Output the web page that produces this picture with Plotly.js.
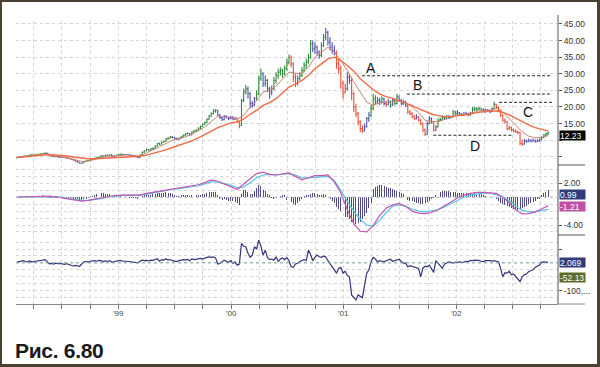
<!DOCTYPE html>
<html>
<head>
<meta charset="utf-8">
<script src="https://cdn.plot.ly/plotly-3.0.1.min.js"></script>
<style>
  html,body{margin:0;padding:0;background:#fff;}
  #wrap{position:relative;width:600px;height:367px;overflow:hidden;background:#fff;}
  #chart{position:absolute;left:0;top:0;width:600px;height:367px;}
  #frame{position:absolute;left:0;top:0;width:600px;height:367px;box-sizing:border-box;
    border-top:2px solid #4a4132;border-left:2px solid #4a4132;border-right:3px solid #4a4132;border-bottom:3px solid #4a4132;pointer-events:none;}
  #caption{position:absolute;left:15px;top:340px;font-family:"Liberation Sans",Arial,sans-serif;font-weight:bold;font-size:21px;letter-spacing:-0.3px;color:#1a1a1a;line-height:21px;}
</style>
</head>
<body>
<div id="wrap">
  <div id="chart"></div>
  <div id="frame"></div>
  <div id="caption">Рис. 6.80</div>
</div>
<script>
// ---- weekly price bars (first bar 1998-02-06, one per week) ----
const firstWeek = '1998-02-06';
const open = [
4.7,4.8,4.9,5.0,5.2,5.3,5.4,5.6,5.5,5.6,
5.7,5.8,5.9,6.0,6.1,5.8,5.3,5.2,5.0,5.1,
4.9,4.8,4.9,4.7,4.6,4.4,4.2,4.0,3.7,3.4,
3.0,3.2,3.6,3.8,3.9,4.2,4.4,4.6,4.8,5.0,
5.3,5.2,5.5,5.4,5.6,4.9,5.3,5.5,5.7,5.8,
5.6,5.7,5.6,5.5,5.4,5.3,5.0,4.8,5.6,6.4,
6.8,7.2,7.0,7.4,7.5,8.2,9.0,8.8,9.4,9.6,
10.4,10.6,11.0,10.8,10.5,10.3,10.6,11.0,11.5,11.9,
12.0,11.6,12.5,12.8,13.0,13.6,14.1,14.8,15.3,16.3,
17.3,18.0,18.8,19.0,17.6,16.8,16.2,17.2,16.8,16.5,
17.0,16.4,16.6,15.5,14.5,22.0,24.5,25.5,24.0,21.0,
20.5,22.5,24.0,28.5,30.0,27.0,28.0,25.5,24.5,25.5,
28.0,29.5,30.5,31.0,30.0,31.5,33.5,35.0,33.0,29.0,
27.0,28.5,29.5,31.0,32.5,33.5,35.0,39.0,37.5,38.0,
36.5,35.5,38.5,41.0,42.5,39.5,38.0,37.0,36.5,33.0,
31.5,27.0,24.5,25.5,29.0,28.0,24.0,20.0,18.0,15.5,
13.5,12.8,14.0,16.5,17.5,19.5,22.5,21.5,22.0,21.5,
22.5,21.0,20.8,21.5,20.5,22.0,21.0,23.0,22.0,21.0,
21.5,20.5,18.5,18.0,17.0,16.5,17.0,16.0,15.0,13.0,
11.8,15.0,16.5,15.5,13.0,14.0,16.0,16.2,16.8,16.5,
17.2,16.8,17.0,18.5,18.0,18.2,17.8,17.5,17.8,18.0,
17.6,18.2,19.2,19.5,19.3,19.6,19.0,19.2,18.9,19.0,
18.6,19.5,20.8,19.8,19.0,17.5,16.0,15.5,13.5,13.8,
13.2,12.8,12.5,12.3,9.0,8.8,9.8,9.6,10.0,9.7,
10.0,9.6,9.8,10.1,10.8,11.5,11.9];
const high = [
4.9,5.0,5.1,5.3,5.4,5.5,5.7,5.7,5.7,5.8,
5.9,6.0,6.1,6.3,6.2,5.9,5.4,5.3,5.2,5.2,
5.0,5.0,5.0,4.8,4.7,4.5,4.3,4.1,3.8,3.5,
3.3,3.7,3.9,4.0,4.3,4.5,4.7,4.9,5.1,5.4,
5.4,5.6,5.6,5.8,5.7,5.4,5.6,5.8,5.9,5.9,
5.8,5.8,5.7,5.6,5.5,5.4,5.1,5.7,6.5,6.9,
7.4,7.3,7.6,7.8,8.4,9.2,9.3,9.6,9.9,10.6,
10.9,11.3,11.2,11.0,10.7,10.8,11.2,11.7,12.1,12.3,
12.2,12.7,13.0,13.3,13.9,14.4,15.0,15.6,16.6,17.6,
18.4,19.3,19.4,19.1,17.9,17.0,17.6,17.5,17.1,17.4,
17.2,17.0,16.8,15.8,22.5,25.6,26.6,26.2,24.5,21.8,
23.0,25.0,29.5,31.6,30.5,29.5,28.4,26.0,26.5,29.0,
30.5,31.5,32.0,31.5,32.5,34.5,35.8,35.5,33.5,30.0,
29.5,30.5,32.0,33.5,34.5,36.0,40.2,40.0,39.5,38.5,
37.0,39.5,42.0,43.8,43.0,41.0,39.5,38.5,37.0,34.5,
32.5,28.0,27.0,30.5,30.0,29.0,24.5,21.0,18.5,16.0,
14.5,15.0,17.0,18.5,20.5,24.0,23.5,23.0,22.8,23.2,
22.8,21.8,22.5,22.0,22.8,22.5,24.0,23.5,22.5,22.2,
21.8,20.8,19.2,18.4,17.6,17.8,17.3,16.4,15.3,13.5,
15.6,17.2,16.8,15.8,14.5,16.6,16.8,17.5,17.2,17.6,
17.5,17.4,19.1,18.9,19.0,18.5,18.2,18.5,18.6,18.3,
18.6,20.0,20.1,19.9,20.0,19.8,19.6,19.5,19.4,19.2,
19.8,21.6,21.0,20.2,19.3,17.8,16.5,15.8,14.4,14.1,
13.5,13.2,12.8,12.5,10.1,10.4,10.2,10.5,10.3,10.4,
10.2,10.3,10.5,11.2,11.9,12.3,12.6];
const low = [
4.6,4.7,4.8,4.9,5.1,5.2,5.3,5.4,5.4,5.5,
5.6,5.7,5.8,5.9,5.7,5.2,5.0,4.9,4.9,4.8,
4.7,4.7,4.6,4.5,4.3,4.1,3.9,3.6,3.3,2.9,
2.9,3.1,3.5,3.7,3.8,4.1,4.3,4.5,4.7,4.9,
5.0,5.1,5.3,5.3,4.7,4.8,5.2,5.4,5.6,5.5,
5.5,5.5,5.4,5.3,5.2,4.9,4.6,4.7,5.5,6.2,
6.6,6.8,6.9,7.2,7.4,8.1,8.5,8.7,9.2,9.5,
10.2,10.5,10.6,10.2,10.0,10.1,10.5,10.9,11.3,11.7,
11.4,11.5,12.3,12.6,12.9,13.4,14.0,14.6,15.1,16.1,
17.0,17.8,18.3,17.3,16.4,15.8,16.0,16.5,16.0,16.3,
16.0,16.1,15.2,13.6,14.3,21.5,23.8,22.5,19.6,19.8,
20.2,22.0,23.5,27.8,26.0,26.2,24.5,22.5,23.5,25.0,
27.0,28.5,29.5,28.8,29.5,31.0,32.8,32.0,27.5,26.0,
26.5,28.0,29.0,30.5,31.5,33.0,34.5,36.5,36.0,35.5,
34.5,35.0,38.0,40.0,38.5,37.0,36.0,35.5,31.5,30.0,
25.5,22.5,24.0,25.0,27.0,22.0,18.5,17.0,14.5,12.5,
12.2,12.6,13.8,15.5,17.0,19.0,20.8,20.8,20.5,21.0,
20.5,20.0,20.5,19.8,20.2,20.5,20.8,21.5,20.5,20.6,
20.0,18.0,17.5,16.6,16.0,16.2,15.6,14.5,12.5,11.3,
11.6,14.8,15.0,12.6,12.8,13.8,15.6,16.0,16.1,16.3,
16.4,16.5,16.9,17.6,17.6,17.4,17.2,17.3,17.5,17.2,
17.4,18.0,18.8,18.8,19.0,18.6,18.5,18.3,18.5,18.1,
18.4,19.3,19.4,18.6,17.0,15.5,15.0,13.0,13.0,12.6,
12.4,12.2,11.8,8.5,8.3,8.6,9.2,9.4,9.3,9.5,
9.2,9.4,9.5,9.9,10.6,11.1,11.6];
const close = [
4.8,4.9,5.0,5.2,5.3,5.4,5.6,5.5,5.6,5.7,
5.8,5.9,6.0,6.1,5.8,5.3,5.2,5.0,5.1,4.9,
4.8,4.9,4.7,4.6,4.4,4.2,4.0,3.7,3.4,3.0,
3.2,3.6,3.8,3.9,4.2,4.4,4.6,4.8,5.0,5.3,
5.2,5.5,5.4,5.6,4.9,5.3,5.5,5.7,5.8,5.6,
5.7,5.6,5.5,5.4,5.3,5.0,4.8,5.6,6.4,6.8,
7.2,7.0,7.4,7.5,8.2,9.0,8.8,9.4,9.6,10.4,
10.6,11.0,10.8,10.5,10.3,10.6,11.0,11.5,11.9,12.0,
11.6,12.5,12.8,13.0,13.6,14.1,14.8,15.3,16.3,17.3,
18.0,18.8,19.0,17.6,16.8,16.2,17.2,16.8,16.5,17.0,
16.4,16.6,15.5,14.5,22.0,24.5,25.5,24.0,21.0,20.5,
22.5,24.0,28.5,30.0,27.0,28.0,25.5,24.5,25.5,28.0,
29.5,30.5,31.0,30.0,31.5,33.5,35.0,33.0,29.0,27.0,
28.5,29.5,31.0,32.5,33.5,35.0,39.0,37.5,38.0,36.5,
35.5,38.5,41.0,42.5,39.5,38.0,37.0,36.5,33.0,31.5,
27.0,24.5,25.5,29.0,28.0,24.0,20.0,18.0,15.5,13.5,
12.8,14.0,16.5,17.5,19.5,22.5,21.5,22.0,21.5,22.5,
21.0,20.8,21.5,20.5,22.0,21.0,23.0,22.0,21.0,21.5,
20.5,18.5,18.0,17.0,16.5,17.0,16.0,15.0,13.0,11.8,
15.0,16.5,15.5,13.0,14.0,16.0,16.2,16.8,16.5,17.2,
16.8,17.0,18.5,18.0,18.2,17.8,17.5,17.8,18.0,17.6,
18.2,19.2,19.5,19.3,19.6,19.0,19.2,18.9,19.0,18.6,
19.5,20.8,19.8,19.0,17.5,16.0,15.5,13.5,13.8,13.2,
12.8,12.5,12.3,9.0,8.8,9.8,9.6,10.0,9.7,10.0,
9.6,9.8,10.1,10.8,11.5,11.9,12.23];
// impulse colour of each weekly bar: g = green, r = red, b = blue
const barColor =
 'gggggggbgg'+'ggggbbbrbb'+'bbrbbrrbbr'+'bggggggggg'+'bgbgbbgggb'+
 'bbbbbbbggg'+'gbgggggggg'+'ggbbbbgggg'+'bggggggggg'+'gggbbbbbbb'+
 'bbrrgggbbb'+'bgggbbbbbg'+'gggggggrrr'+'bggggggbbb'+'bggbbbbbrr'+
 'rrrbbrrrrr'+'rbbbggggbg'+'brbgbggbbg'+'brrrrbrrrr'+'bbbrbgggbg'+
 'bgggbbbbbb'+'bgggggbbbb'+'bgrrrrrrrr'+'rrrrrbbbbb'+'bbbgggg';

// ---- moving averages, MACD lines: one value every 3 weeks ----
const emaSlow = [4.8,5.0,5.2,5.4,5.6,5.65,5.55,5.4,5.15,4.85,
4.55,4.4,4.4,4.5,4.7,4.85,5.0,5.1,5.15,5.15,
5.5,6.0,6.5,7.1,7.8,8.4,9.0,9.8,10.7,11.6,
12.7,13.8,14.6,15.2,15.5,16.4,17.8,19.0,20.5,21.3,
22.5,24.2,26.0,27.0,28.0,29.5,31.5,33.0,34.5,35.0,
34.0,32.5,30.8,28.5,26.8,25.2,23.9,23.1,22.6,21.9,
21.2,20.4,19.5,18.6,17.9,17.4,17.1,17.1,17.3,17.6,
17.9,18.3,18.6,18.8,18.8,18.4,17.6,16.6,15.5,14.6,
13.8,13.2,12.8];
const emaFast = [4.8,5.1,5.4,5.6,5.85,5.6,5.3,5.0,4.6,4.1,
3.6,3.7,4.2,4.8,5.2,5.2,5.5,5.6,5.4,5.2,
6.2,7.0,8.0,9.0,10.0,10.3,11.0,11.8,12.8,14.0,
15.6,17.2,17.0,16.8,16.3,17.5,20.0,21.8,24.5,25.0,
26.3,28.3,30.5,30.2,30.0,32.0,35.0,36.5,38.0,36.5,
34.0,31.0,27.5,24.5,21.5,20.5,21.3,21.5,21.5,22.0,
21.3,20.0,18.3,16.0,15.6,15.6,16.3,16.8,17.5,17.7,
18.0,18.7,19.0,19.0,19.6,18.5,16.5,14.8,12.5,11.2,
10.7,10.8,11.4];
const macd = [0.0,0.05,0.1,0.15,0.2,0.15,0.05,-0.1,-0.25,-0.45,
-0.55,-0.45,-0.25,-0.05,0.15,0.25,0.3,0.3,0.25,0.3,
0.55,0.7,0.9,1.1,1.25,1.3,1.45,1.6,1.8,2.1,
2.5,2.3,1.9,1.5,1.1,1.9,2.7,3.4,3.6,3.3,
3.2,3.3,3.5,3.0,2.5,2.8,3.1,3.1,3.2,2.2,
0.6,-1.8,-3.8,-4.9,-5.0,-4.1,-2.6,-1.6,-1.1,-0.9,
-1.3,-2.0,-2.3,-2.35,-2.2,-1.8,-1.3,-0.7,-0.1,0.3,
0.55,0.7,0.7,0.65,0.55,0.0,-0.8,-1.8,-2.4,-2.35,
-2.1,-1.7,-1.21];
const signal = [0.0,0.02,0.06,0.1,0.15,0.15,0.1,0.0,-0.15,-0.3,
-0.45,-0.45,-0.35,-0.2,0.0,0.15,0.25,0.3,0.28,0.28,
0.4,0.6,0.8,1.0,1.15,1.25,1.35,1.5,1.65,1.9,
2.2,2.2,2.0,1.7,1.35,1.5,2.1,2.8,3.2,3.3,
3.2,3.3,3.4,3.2,2.8,2.8,2.9,3.0,3.0,2.4,
1.0,-0.6,-2.0,-3.2,-4.0,-4.2,-3.3,-2.2,-1.3,-1.1,
-1.3,-1.7,-2.0,-2.1,-2.0,-1.8,-1.4,-0.9,-0.4,0.0,
0.3,0.5,0.6,0.6,0.35,0.1,-0.5,-1.3,-1.9,-2.1,
-2.1,-1.9,-1.75];

// ---- weekly MACD histogram ----
const hist = [
0.05,0.1,0.1,0.15,0.15,0.2,0.2,0.15,0.15,0.2,
0.2,0.2,0.25,0.25,0.1,-0.1,-0.1,-0.15,-0.1,-0.15,
-0.15,-0.1,-0.2,-0.2,-0.25,-0.3,-0.35,-0.4,-0.45,-0.5,
-0.45,-0.3,-0.2,-0.1,0.1,0.2,0.3,0.45,0.55,0.6,
0.55,0.5,0.45,0.4,0.1,0.15,0.15,0.2,0.2,0.1,
0.05,0.05,-0.05,-0.05,-0.1,-0.15,-0.2,0.05,0.2,0.3,
0.35,0.3,0.35,0.4,0.5,0.65,0.55,0.6,0.6,0.7,
0.65,0.6,0.45,0.3,0.2,0.2,0.25,0.3,0.3,0.3,
0.2,0.25,0.25,0.25,0.3,0.35,0.4,0.5,0.6,0.75,
0.8,0.8,0.7,0.3,-0.2,-0.4,-0.3,-0.45,-0.55,-0.5,
-0.6,-0.7,-0.9,-1.1,0.4,1.1,1.0,0.8,0.4,0.5,
0.9,1.3,1.75,1.6,1.0,0.9,0.5,0.3,-0.1,-0.2,
-0.1,0.1,0.2,0.25,0.3,-0.4,-0.5,-0.7,-1.0,-1.1,
-0.9,-0.6,-0.2,0.2,0.3,0.35,0.45,0.65,0.6,0.45,
0.3,0.35,0.4,0.3,0.1,-0.3,-0.6,-0.9,-1.4,-1.7,
-2.0,-2.6,-2.9,-2.9,-3.2,-3.5,-3.7,-3.8,-3.7,-3.5,
-3.2,-2.7,-2.2,-1.6,-0.8,1.2,1.5,1.6,1.75,1.7,
1.6,1.5,1.4,1.3,1.2,1.0,0.9,0.8,0.6,0.4,
0.1,-0.4,-0.5,-0.6,-0.7,-0.8,-0.9,-1.0,-1.0,-0.9,
-0.7,-0.5,-0.3,-0.1,0.3,0.5,0.7,0.85,0.95,0.9,
0.85,0.8,0.75,0.7,0.65,0.6,0.55,0.55,0.6,0.55,
0.5,0.5,0.55,0.5,0.45,0.4,0.3,0.2,0.1,0.05,
0.0,0.05,-0.2,-0.5,-0.8,-1.0,-1.1,-1.3,-1.4,-1.5,
-1.7,-1.8,-1.8,-1.7,-1.6,-1.4,-1.2,-1.0,-0.9,-0.7,
-0.5,-0.3,-0.2,0.3,0.55,0.75,0.99];

// ---- weekly force index ----
const force = [
3,5,6,8,5,4,7,3,5,6,
8,7,10,12,3,-3,-2,-4,-1,-3,
-2,-4,-5,-3,-6,-8,-11,-9,-10,-12,
-4,4,5,3,6,7,8,6,9,8,
5,7,6,8,2,5,7,8,9,6,
7,6,5,4,3,1,0,6,10,8,
9,7,10,9,13,15,6,12,10,14,
11,12,8,6,5,8,10,12,11,13,
8,14,12,13,15,16,14,18,20,22,
20,22,18,-4,-2,4,10,6,2,8,
-2,4,-8,-4,70,60,58,35,20,28,
58,50,82,60,28,46,20,12,14,10,
22,5,14,18,12,20,8,-14,-16,-4,
-1,5,8,12,8,46,30,8,20,28,
22,20,24,22,8,-5,-14,-25,-37,-20,
-16,-37,-30,-45,-50,-115,-125,-133,-115,-120,
-125,-80,-37,-25,5,20,14,4,8,6,
4,8,10,13,6,8,10,13,5,-1,
-1,-14,-10,-12,-14,-16,-20,-50,-19,-12,
-14,-8,-20,-34,8,-2,-10,-19,-5,-1,
4,2,-1,3,1,4,2,3,6,5,
9,8,10,9,9,6,5,8,9,8,
7,8,6,4,-20,-50,-35,-37,-30,-43,
-40,-50,-58,-67,-50,-43,-40,-31,-28,-25,
-16,-12,-8,2,4,3,2.069];
const forceSecondLast = -52.13;

// ---- marked levels A..D ----
const levelNames  = ['A','B','C','D'];
const levelValues = [29.4, 23.9, 21.4, 11.5];
const levelStart  = ['2001-03-01','2001-07-24','2002-05-19','2001-10-18'];
const levelEnd    = ['2002-11-07','2002-11-07','2002-11-07','2002-07-03'];
const labelDates  = ['2001-03-31','2001-08-27','2002-08-21','2002-03-03'];
const labelValues = [31.6, 26.5, 18.5, 8.3];

// ---- axis ticks ----
const priceTicks  = [5,10,15,20,25,30,35,40,45];
const priceLabels = ['','','15.00','20.00','25.00','30.00','35.00','40.00','45.00'];
const macdTicks   = [2,-4];
const macdLabels  = ['2.00','-4.00'];
const forceTicks  = [50,-100];
const forceLabels = ['','-100,...'];
const years = [1998,1999,2000,2001,2002];
const yearLabels = {1999:"'99",2000:"'00",2001:"'01",2002:"'02"};

// ---------- build ----------
const DAY = 86400000;
const t0 = Date.parse(firstWeek+'T00:00:00Z');
const dates = close.map((_,i)=> new Date(t0 + i*7*DAY).toISOString().slice(0,10));
const dates3 = emaSlow.map((_,k)=> dates[k*3]);

const colors = {g:'#2e8a38', r:'#eb4f36', b:'#5254ac'};
const traces = [];
['b','g','r'].forEach(code=>{
  const idx = [];
  for (let i=0;i<close.length;i++) if ((barColor[i]||'b')===code) idx.push(i);
  traces.push({type:'ohlc', xaxis:'x', yaxis:'y3',
    x: idx.map(i=>dates[i]), open: idx.map(i=>open[i]), high: idx.map(i=>high[i]),
    low: idx.map(i=>low[i]), close: idx.map(i=>close[i]),
    increasing:{line:{color:colors[code], width:1.1}},
    decreasing:{line:{color:colors[code], width:1.1}},
    tickwidth:0.45, hoverinfo:'skip', showlegend:false});
});
traces.push({type:'scatter', mode:'lines', xaxis:'x', yaxis:'y3', x:dates3, y:emaFast,
  line:{color:'#c4846f', width:1}, hoverinfo:'skip'});
traces.push({type:'scatter', mode:'lines', xaxis:'x', yaxis:'y3', x:dates3, y:emaSlow,
  line:{color:'#f26a45', width:1.4}, hoverinfo:'skip'});

traces.push({type:'bar', xaxis:'x', yaxis:'y2', x:dates, y:hist, width:7*DAY*0.45,
  marker:{color:'#4d4d86', line:{width:0}}, hoverinfo:'skip'});
traces.push({type:'scatter', mode:'lines', xaxis:'x', yaxis:'y2', x:dates3, y:signal,
  line:{color:'#55c3e8', width:1.2}, hoverinfo:'skip'});
traces.push({type:'scatter', mode:'lines', xaxis:'x', yaxis:'y2', x:dates3, y:macd,
  line:{color:'#c455b0', width:1.2}, hoverinfo:'skip'});

traces.push({type:'scatter', mode:'lines', xaxis:'x', yaxis:'y', x:dates, y:force,
  line:{color:'#35357a', width:1.2}, hoverinfo:'skip'});

// x ticks (quarters); year labels are drawn as annotations just below the axis
const xTickVals = [];
const yearTickDates = [];
years.forEach(y=>{
  [1,4,7,10].forEach(m=>{
    const d = y+'-'+String(m).padStart(2,'0')+'-01';
    if (d < '1998-02-03' || d > '2002-11-26') return;
    xTickVals.push(d);
    if (m===1 && yearLabels[y]) yearTickDates.push([d, yearLabels[y]]);
  });
});

const font = {family:'"Liberation Sans", Arial, sans-serif', size:8.5, color:'#333'};
const gridCol = '#d6d6d6';
function yax(domain, range, tv, tt, minorDtick){
  return {domain, range, side:'right', anchor:'x', fixedrange:true,
    tickmode:'array', tickvals:tv, ticktext:tt, ticks:'outside', ticklen:3, tickcolor:'#555',
    tickfont:font, showgrid:true, gridcolor:gridCol, griddash:'dot', gridwidth:1,
    minor:{dtick:minorDtick, tick0:0, showgrid:true, gridcolor:gridCol, griddash:'dot', ticks:''},
    zeroline:false, showline:false};
}

const pTop=21, pBot=304, H=pBot-pTop;
const dPrice = (pBot-165)/H, dMacd = (pBot-235)/H;
const xRight = (585-16)/542;

const shapes = [
  {type:'line', xref:'paper', yref:'paper', x0:1, x1:1, y0:0, y1:(pBot-15)/H, line:{color:'#555', width:1}},
  {type:'line', xref:'paper', yref:'paper', x0:1, x1:xRight, y0:dPrice, y1:dPrice, line:{color:'#555', width:1}},
  {type:'line', xref:'paper', yref:'paper', x0:1, x1:xRight, y0:dMacd, y1:dMacd, line:{color:'#555', width:1}},
  {type:'line', xref:'paper', yref:'paper', x0:1, x1:xRight, y0:0, y1:0, line:{color:'#888', width:1}},
  {type:'line', xref:'paper', yref:'y', x0:0, x1:1, y0:0, y1:0, line:{color:'#7fa9a0', width:1, dash:'dot'}},
  {type:'line', xref:'paper', yref:'y2', x0:0, x1:1, y0:0, y1:0, line:{color:'#b8b8c8', width:1, dash:'dot'}}
];
const annotations = [];
levelNames.forEach((n,k)=>{
  shapes.push({type:'line', xref:'x', yref:'y3', x0:levelStart[k], x1:levelEnd[k],
    y0:levelValues[k], y1:levelValues[k], line:{color:'#222', width:1, dash:'3px,2px'}});
  annotations.push({xref:'x', yref:'y3', x:labelDates[k], y:labelValues[k], text:n, showarrow:false,
    font:{family:'"Liberation Sans", Arial, sans-serif', size:14, color:'#111'}});
});
yearTickDates.forEach(([d,t])=>{
  annotations.push({xref:'x', yref:'paper', x:d, y:-(313-pBot)/H, yanchor:'middle', text:t,
    showarrow:false, font:{family:font.family, size:8, color:'#444'}});
});
function sideLabel(yref, y, txt, bg, ys){
  annotations.push({xref:'paper', yref, x:1, y, xanchor:'left', yanchor:'middle', text:txt,
    showarrow:false, bgcolor:bg, borderpad:0, width:25, height:9, align:'left', xshift:1, yshift:ys,
    font:{family:'"Liberation Sans", Arial, sans-serif', size:8.5, color:'#fff'}});
}
const N = close.length;
sideLabel('y3', close[N-1], close[N-1].toFixed(2), '#000', -2.5);
sideLabel('y2', hist[N-1], hist[N-1].toFixed(2), '#2f3b7a', -4);
sideLabel('y2', macd[macd.length-1], macd[macd.length-1].toFixed(2), '#c04fa6', -0.5);
sideLabel('y', force[N-1], force[N-1].toFixed(3), '#2f3b7a', 0);
sideLabel('y', forceSecondLast, forceSecondLast.toFixed(2), '#5b6b2b', 0);

const layout = {
  width:600, height:367,
  margin:{l:16, r:42, t:pTop, b:367-pBot, pad:0},
  paper_bgcolor:'rgba(0,0,0,0)', plot_bgcolor:'#fff',
  showlegend:false, bargap:0, hovermode:false,
  font:{family:'"Liberation Sans", Arial, sans-serif'},
  xaxis:{type:'date', range:['1998-02-03','2002-11-26'], anchor:'y', fixedrange:true,
    rangeslider:{visible:false}, tickmode:'array', tickvals:xTickVals,
    ticktext:xTickVals.map(()=>''), showticklabels:false,
    ticks:'outside', ticklen:4, tickcolor:'#777',
    showline:true, linecolor:'#888', linewidth:1, showgrid:true, gridcolor:gridCol, griddash:'dot',
    zeroline:false},
  yaxis: yax([0, dMacd], [-147.8, 100.4], forceTicks, forceLabels, 25),
  yaxis2: yax([dMacd, dPrice], [-5.44, 4.64], macdTicks, macdLabels, 1),
  yaxis3: yax([dPrice, 1], [2.53, 45.9], priceTicks, priceLabels, 5),
  shapes, annotations
};
Plotly.newPlot('chart', traces, layout, {staticPlot:true, displayModeBar:false});
</script>
</body>
</html>
